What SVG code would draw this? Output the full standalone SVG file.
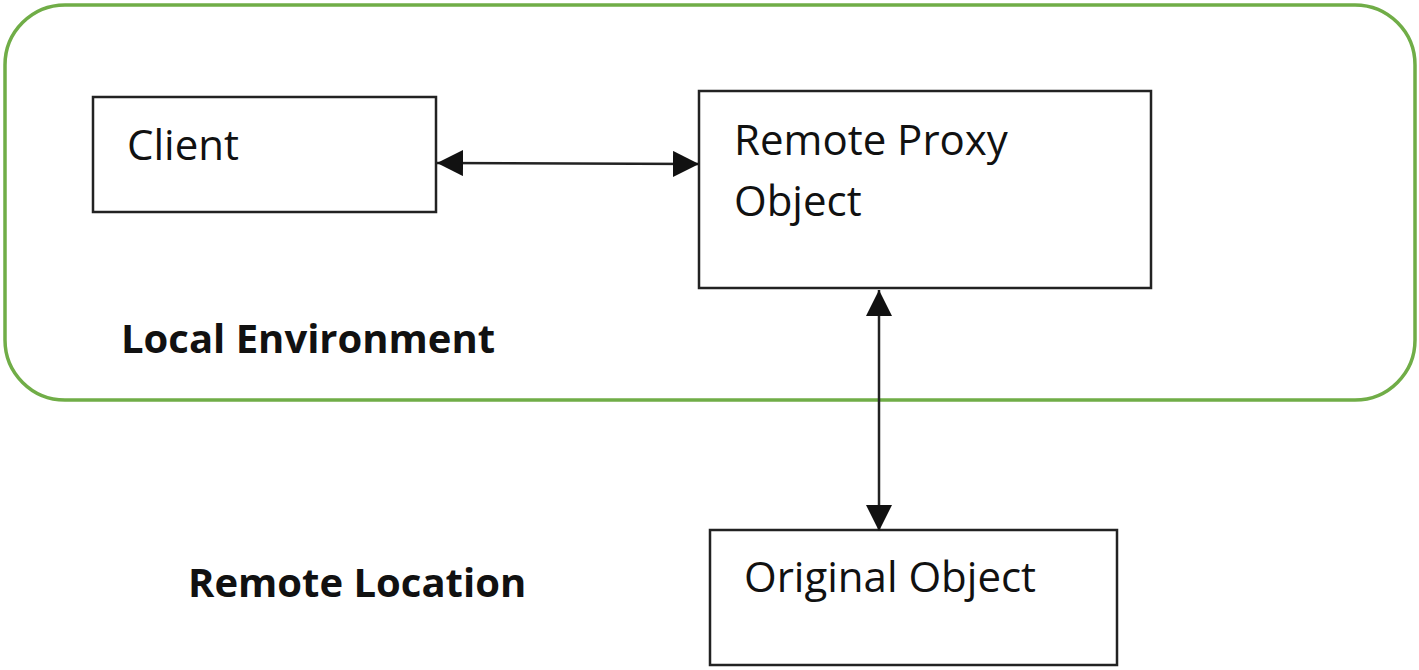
<svg xmlns="http://www.w3.org/2000/svg" width="1419" height="670" viewBox="0 0 1419 670">
<defs>
<style>
.env{fill:none;stroke:#70ad47;stroke-width:3.5}
.box{fill:#fff;stroke:#222;stroke-width:2.5}
.t{font-family:"Open Sans","Noto Sans",sans-serif;font-size:42px;fill:#111}
.b{font-family:"Open Sans","Noto Sans",sans-serif;font-size:40px;font-weight:bold;fill:#111}
.c{stroke:#222;stroke-width:2.5;fill:none}
</style>
<marker id="ah" viewBox="0 0 26 26" refX="26" refY="13" markerWidth="26" markerHeight="26" markerUnits="userSpaceOnUse" orient="auto-start-reverse">
<path d="M0,0 L26,13 L0,26 Z" fill="#111"/>
</marker>
</defs>
<rect width="1419" height="670" fill="#fff"/>
<g id="local-environment">
<rect class="env" x="5" y="5" width="1410" height="395" rx="60" ry="60"/>
<text class="b" x="121" y="353">Local Environment</text>
</g>
<g id="remote-location">
<text class="b" x="188" y="597">Remote Location</text>
</g>
<g id="client">
<rect class="box" x="93" y="97" width="343" height="115"/>
<text class="t" x="127" y="160">Client</text>
</g>
<g id="proxy">
<rect class="box" x="699" y="91" width="452" height="197"/>
<text class="t" x="734" y="155">Remote Proxy</text>
<text class="t" x="734" y="216">Object</text>
</g>
<g id="original">
<rect class="box" x="710" y="530" width="407" height="135"/>
<text class="t" x="744" y="592">Original Object</text>
</g>
<g id="connectors">
<line class="c" x1="437" y1="163" x2="699" y2="164" marker-start="url(#ah)" marker-end="url(#ah)"/>
<line class="c" x1="879" y1="290" x2="879" y2="531" marker-start="url(#ah)" marker-end="url(#ah)"/>
</g>
</svg>
